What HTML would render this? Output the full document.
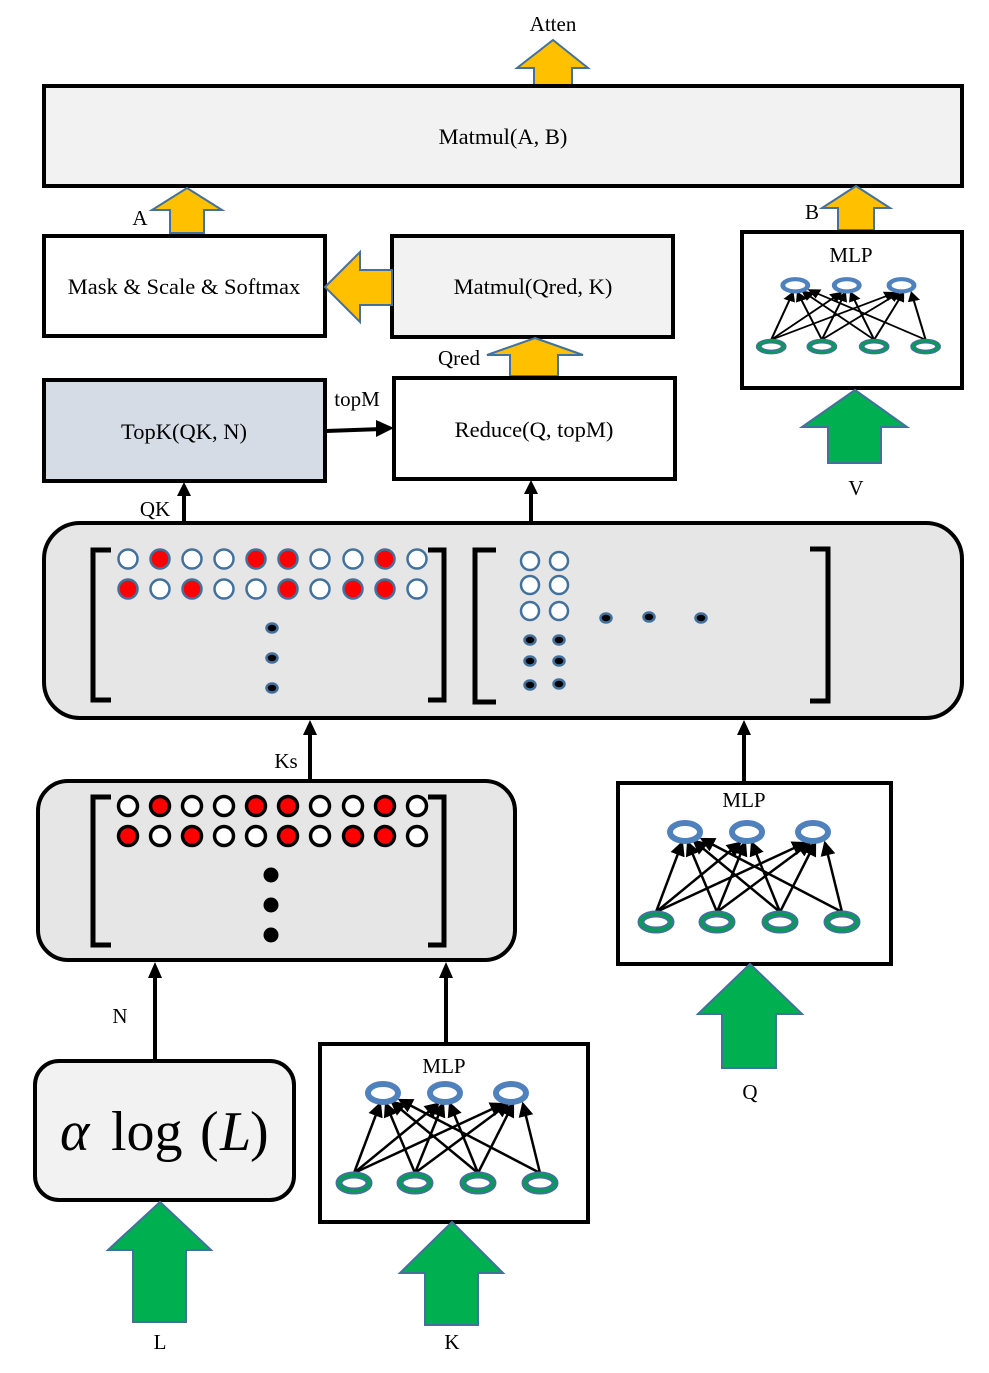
<!DOCTYPE html>
<html><head><meta charset="utf-8"><style>
html,body{margin:0;padding:0;background:#fff;}
svg{display:block;}
text{font-family:"Liberation Serif",serif;fill:#000;}
</style></head><body>
<svg width="989" height="1373" viewBox="0 0 989 1373" xmlns="http://www.w3.org/2000/svg">
<defs>
<marker id="ah" markerWidth="6" markerHeight="6" refX="5" refY="3" orient="auto" markerUnits="strokeWidth"><path d="M0,0 L6,3 L0,6 z" fill="#000"/></marker>
<g id="mlp">
 <g stroke="#000" stroke-width="2.5" marker-end="url(#ah)">
  <line x1="34" y1="129" x2="60" y2="60"/>
  <line x1="34" y1="129" x2="118" y2="60"/>
  <line x1="34" y1="129" x2="183" y2="60"/>
  <line x1="95" y1="129" x2="66" y2="60"/>
  <line x1="95" y1="129" x2="123" y2="60"/>
  <line x1="95" y1="129" x2="188" y2="60"/>
  <line x1="158" y1="129" x2="72" y2="58"/>
  <line x1="158" y1="129" x2="130" y2="60"/>
  <line x1="158" y1="129" x2="193" y2="60"/>
  <line x1="220" y1="129" x2="80" y2="56"/>
  <line x1="220" y1="129" x2="203" y2="60"/>
 </g>
 <g fill="#fff" stroke="#4f81bd" stroke-width="6">
  <ellipse cx="63" cy="49" rx="15" ry="9"/>
  <ellipse cx="125" cy="49" rx="15" ry="9"/>
  <ellipse cx="191" cy="49" rx="15" ry="9"/>
 </g>
 <g fill="#fff" stroke="#41719c" stroke-width="7">
  <ellipse cx="34" cy="139" rx="15" ry="8"/><ellipse cx="95" cy="139" rx="15" ry="8"/>
  <ellipse cx="158" cy="139" rx="15" ry="8"/><ellipse cx="220" cy="139" rx="15" ry="8"/>
 </g>
 <g fill="none" stroke="#00a050" stroke-width="3">
  <ellipse cx="34" cy="139" rx="15" ry="8"/><ellipse cx="95" cy="139" rx="15" ry="8"/>
  <ellipse cx="158" cy="139" rx="15" ry="8"/><ellipse cx="220" cy="139" rx="15" ry="8"/>
 </g>
</g>
</defs>

<text x="553" y="31" font-size="21" text-anchor="middle">Atten</text>
<polygon points="553,40 588,68 572,68 572,87 534,87 534,68 517,68" fill="#ffc000" stroke="#41719c" stroke-width="2"/>
<rect x="44" y="86" width="918" height="100" fill="#f2f2f2" stroke="#000" stroke-width="4"/>
<text x="503" y="144" font-size="22.5" text-anchor="middle">Matmul(A, B)</text>

<polygon points="187,188 222,210 204,210 204,233 170,233 170,210 152,210" fill="#ffc000" stroke="#41719c" stroke-width="2"/>
<text x="140" y="225" font-size="21" text-anchor="middle">A</text>
<polygon points="856,186 890,208 874,208 874,230 838,230 838,208 822,208" fill="#ffc000" stroke="#41719c" stroke-width="2"/>
<text x="812" y="219" font-size="21" text-anchor="middle">B</text>

<rect x="44" y="236" width="281" height="100" fill="#fff" stroke="#000" stroke-width="4"/>
<text x="184" y="294" font-size="22.5" text-anchor="middle">Mask &amp; Scale &amp; Softmax</text>
<rect x="392" y="236" width="281" height="101" fill="#f2f2f2" stroke="#000" stroke-width="4"/>
<text x="533" y="294" font-size="22.5" text-anchor="middle">Matmul(Qred, K)</text>
<polygon points="325,287 360,252 360,270 392,270 392,305 360,305 360,322" fill="#ffc000" stroke="#41719c" stroke-width="2"/>

<rect x="742" y="232" width="220" height="156" fill="#fff" stroke="#000" stroke-width="4"/>
<text x="851" y="262" font-size="21" text-anchor="middle">MLP</text>
<use href="#mlp" transform="translate(743,252) scale(0.83,0.68)"/>

<text x="459" y="365" font-size="21" text-anchor="middle">Qred</text>
<polygon points="535,338 583,355 558,355 558,376 510,376 510,355 487,355" fill="#ffc000" stroke="#41719c" stroke-width="2"/>

<rect x="44" y="380" width="281" height="101" fill="#d6dce5" stroke="#000" stroke-width="4"/>
<text x="184" y="439" font-size="22.5" text-anchor="middle">TopK(QK, N)</text>
<rect x="394" y="378" width="281" height="101" fill="#fff" stroke="#000" stroke-width="4"/>
<text x="534" y="437" font-size="22.5" text-anchor="middle">Reduce(Q, topM)</text>
<line x1="326" y1="431" x2="382" y2="429" stroke="#000" stroke-width="4"/>
<polygon points="394,428 376,420 376,437" fill="#000"/>
<text x="357" y="406" font-size="21" text-anchor="middle">topM</text>

<polygon points="855,390 907,427 881,427 881,463 828,463 828,427 802,427" fill="#00b050" stroke="#41719c" stroke-width="2"/>
<text x="856" y="495" font-size="21" text-anchor="middle">V</text>

<text x="155" y="516" font-size="21" text-anchor="middle">QK</text>
<line x1="184" y1="522" x2="184" y2="494" stroke="#000" stroke-width="4"/>
<polygon points="184,482 177,496 191,496" fill="#000"/>
<line x1="531" y1="522" x2="531" y2="493" stroke="#000" stroke-width="4"/>
<polygon points="531,480 524,494 538,494" fill="#000"/>

<rect x="44" y="523" width="918" height="195" rx="36" fill="#e6e6e6" stroke="#000" stroke-width="4"/>
<g fill="none" stroke="#000" stroke-width="5">
 <path d="M111,550 H93 V700 H111"/><path d="M428,550 H444 V700 H428"/>
 <path d="M496,550 H475 V702 H496"/><path d="M810,549 H828 V701 H810"/>
</g>
<g stroke="#41719c" stroke-width="2.5">
 <circle cx="128" cy="559" r="9.5" fill="#fff"/><circle cx="160" cy="559" r="9.5" fill="#f00"/><circle cx="192" cy="559" r="9.5" fill="#fff"/><circle cx="224" cy="559" r="9.5" fill="#fff"/><circle cx="256" cy="559" r="9.5" fill="#f00"/><circle cx="288" cy="559" r="9.5" fill="#f00"/><circle cx="320" cy="559" r="9.5" fill="#fff"/><circle cx="353" cy="559" r="9.5" fill="#fff"/><circle cx="385" cy="559" r="9.5" fill="#f00"/><circle cx="417" cy="559" r="9.5" fill="#fff"/>
 <circle cx="128" cy="589" r="9.5" fill="#f00"/><circle cx="160" cy="589" r="9.5" fill="#fff"/><circle cx="192" cy="589" r="9.5" fill="#f00"/><circle cx="224" cy="589" r="9.5" fill="#fff"/><circle cx="256" cy="589" r="9.5" fill="#fff"/><circle cx="288" cy="589" r="9.5" fill="#f00"/><circle cx="320" cy="589" r="9.5" fill="#fff"/><circle cx="353" cy="589" r="9.5" fill="#f00"/><circle cx="385" cy="589" r="9.5" fill="#f00"/><circle cx="417" cy="589" r="9.5" fill="#fff"/>
 <circle cx="530" cy="561" r="9" fill="#fff"/><circle cx="559" cy="561" r="9" fill="#fff"/>
 <circle cx="530" cy="585" r="9" fill="#fff"/><circle cx="559" cy="585" r="9" fill="#fff"/>
 <circle cx="530" cy="611" r="9" fill="#fff"/><circle cx="559" cy="611" r="9" fill="#fff"/>
 <ellipse cx="272" cy="628" rx="5.5" ry="4.5" fill="#000"/><ellipse cx="272" cy="658" rx="5.5" ry="4.5" fill="#000"/><ellipse cx="272" cy="688" rx="5.5" ry="4.5" fill="#000"/>
 <ellipse cx="530" cy="640" rx="5.5" ry="4.5" fill="#000"/><ellipse cx="559" cy="640" rx="5.5" ry="4.5" fill="#000"/>
 <ellipse cx="530" cy="661" rx="5.5" ry="4.5" fill="#000"/><ellipse cx="559" cy="661" rx="5.5" ry="4.5" fill="#000"/>
 <ellipse cx="530" cy="685" rx="5.5" ry="4.5" fill="#000"/><ellipse cx="559" cy="684" rx="5.5" ry="4.5" fill="#000"/>
 <ellipse cx="606" cy="618" rx="5.5" ry="4.5" fill="#000"/><ellipse cx="649" cy="617" rx="5.5" ry="4.5" fill="#000"/><ellipse cx="701" cy="618" rx="5.5" ry="4.5" fill="#000"/>
</g>

<line x1="310" y1="780" x2="310" y2="733" stroke="#000" stroke-width="4"/>
<polygon points="310,720 303,735 317,735" fill="#000"/>
<text x="286" y="768" font-size="21" text-anchor="middle">Ks</text>
<line x1="744" y1="783" x2="744" y2="733" stroke="#000" stroke-width="4"/>
<polygon points="744,720 737,735 751,735" fill="#000"/>

<rect x="38" y="781" width="477" height="179" rx="30" fill="#e6e6e6" stroke="#000" stroke-width="4"/>
<g fill="none" stroke="#000" stroke-width="5">
 <path d="M111,797 H93 V945 H111"/><path d="M428,797 H444 V945 H428"/>
</g>
<g stroke="#000" stroke-width="3.5">
 <circle cx="128" cy="806" r="9.5" fill="#fff"/><circle cx="160" cy="806" r="9.5" fill="#f00"/><circle cx="192" cy="806" r="9.5" fill="#fff"/><circle cx="224" cy="806" r="9.5" fill="#fff"/><circle cx="256" cy="806" r="9.5" fill="#f00"/><circle cx="288" cy="806" r="9.5" fill="#f00"/><circle cx="320" cy="806" r="9.5" fill="#fff"/><circle cx="353" cy="806" r="9.5" fill="#fff"/><circle cx="385" cy="806" r="9.5" fill="#f00"/><circle cx="417" cy="806" r="9.5" fill="#fff"/>
 <circle cx="128" cy="836" r="9.5" fill="#f00"/><circle cx="160" cy="836" r="9.5" fill="#fff"/><circle cx="192" cy="836" r="9.5" fill="#f00"/><circle cx="224" cy="836" r="9.5" fill="#fff"/><circle cx="256" cy="836" r="9.5" fill="#fff"/><circle cx="288" cy="836" r="9.5" fill="#f00"/><circle cx="320" cy="836" r="9.5" fill="#fff"/><circle cx="353" cy="836" r="9.5" fill="#f00"/><circle cx="385" cy="836" r="9.5" fill="#f00"/><circle cx="417" cy="836" r="9.5" fill="#fff"/>
</g>
<circle cx="271" cy="875" r="7.5" fill="#000"/><circle cx="271" cy="905" r="7.5" fill="#000"/><circle cx="271" cy="935" r="7.5" fill="#000"/>

<rect x="618" y="783" width="273" height="181" fill="#fff" stroke="#000" stroke-width="4"/>
<text x="744" y="807" font-size="21" text-anchor="middle">MLP</text>
<use href="#mlp" transform="translate(622,783)"/>
<polygon points="750,964 802,1014 776,1014 776,1068 722,1068 722,1014 698,1014" fill="#00b050" stroke="#41719c" stroke-width="2"/>
<text x="750" y="1099" font-size="21" text-anchor="middle">Q</text>

<line x1="155" y1="1060" x2="155" y2="976" stroke="#000" stroke-width="4"/>
<polygon points="155,962 148,978 162,978" fill="#000"/>
<text x="120" y="1023" font-size="21" text-anchor="middle">N</text>
<line x1="446" y1="1044" x2="446" y2="976" stroke="#000" stroke-width="4"/>
<polygon points="446,962 439,978 453,978" fill="#000"/>

<rect x="35" y="1061" width="259" height="139" rx="24" fill="#f2f2f2" stroke="#000" stroke-width="4"/>
<text x="60" y="1150" font-size="56" font-style="italic">α</text>
<text x="111" y="1150" font-size="56">log</text>
<text x="200" y="1150" font-size="56">(</text>
<text x="220" y="1150" font-size="56" font-style="italic">L</text>
<text x="250" y="1150" font-size="56">)</text>

<rect x="320" y="1044" width="268" height="178" fill="#fff" stroke="#000" stroke-width="4"/>
<text x="444" y="1073" font-size="21" text-anchor="middle">MLP</text>
<use href="#mlp" transform="translate(320,1044)"/>

<polygon points="160,1202 211,1250 186,1250 186,1322 133,1322 133,1250 108,1250" fill="#00b050" stroke="#41719c" stroke-width="2"/>
<text x="160" y="1349" font-size="21" text-anchor="middle">L</text>
<polygon points="452,1222 503,1273 478,1273 478,1325 425,1325 425,1273 400,1273" fill="#00b050" stroke="#41719c" stroke-width="2"/>
<text x="452" y="1349" font-size="21" text-anchor="middle">K</text>
</svg>
</body></html>
